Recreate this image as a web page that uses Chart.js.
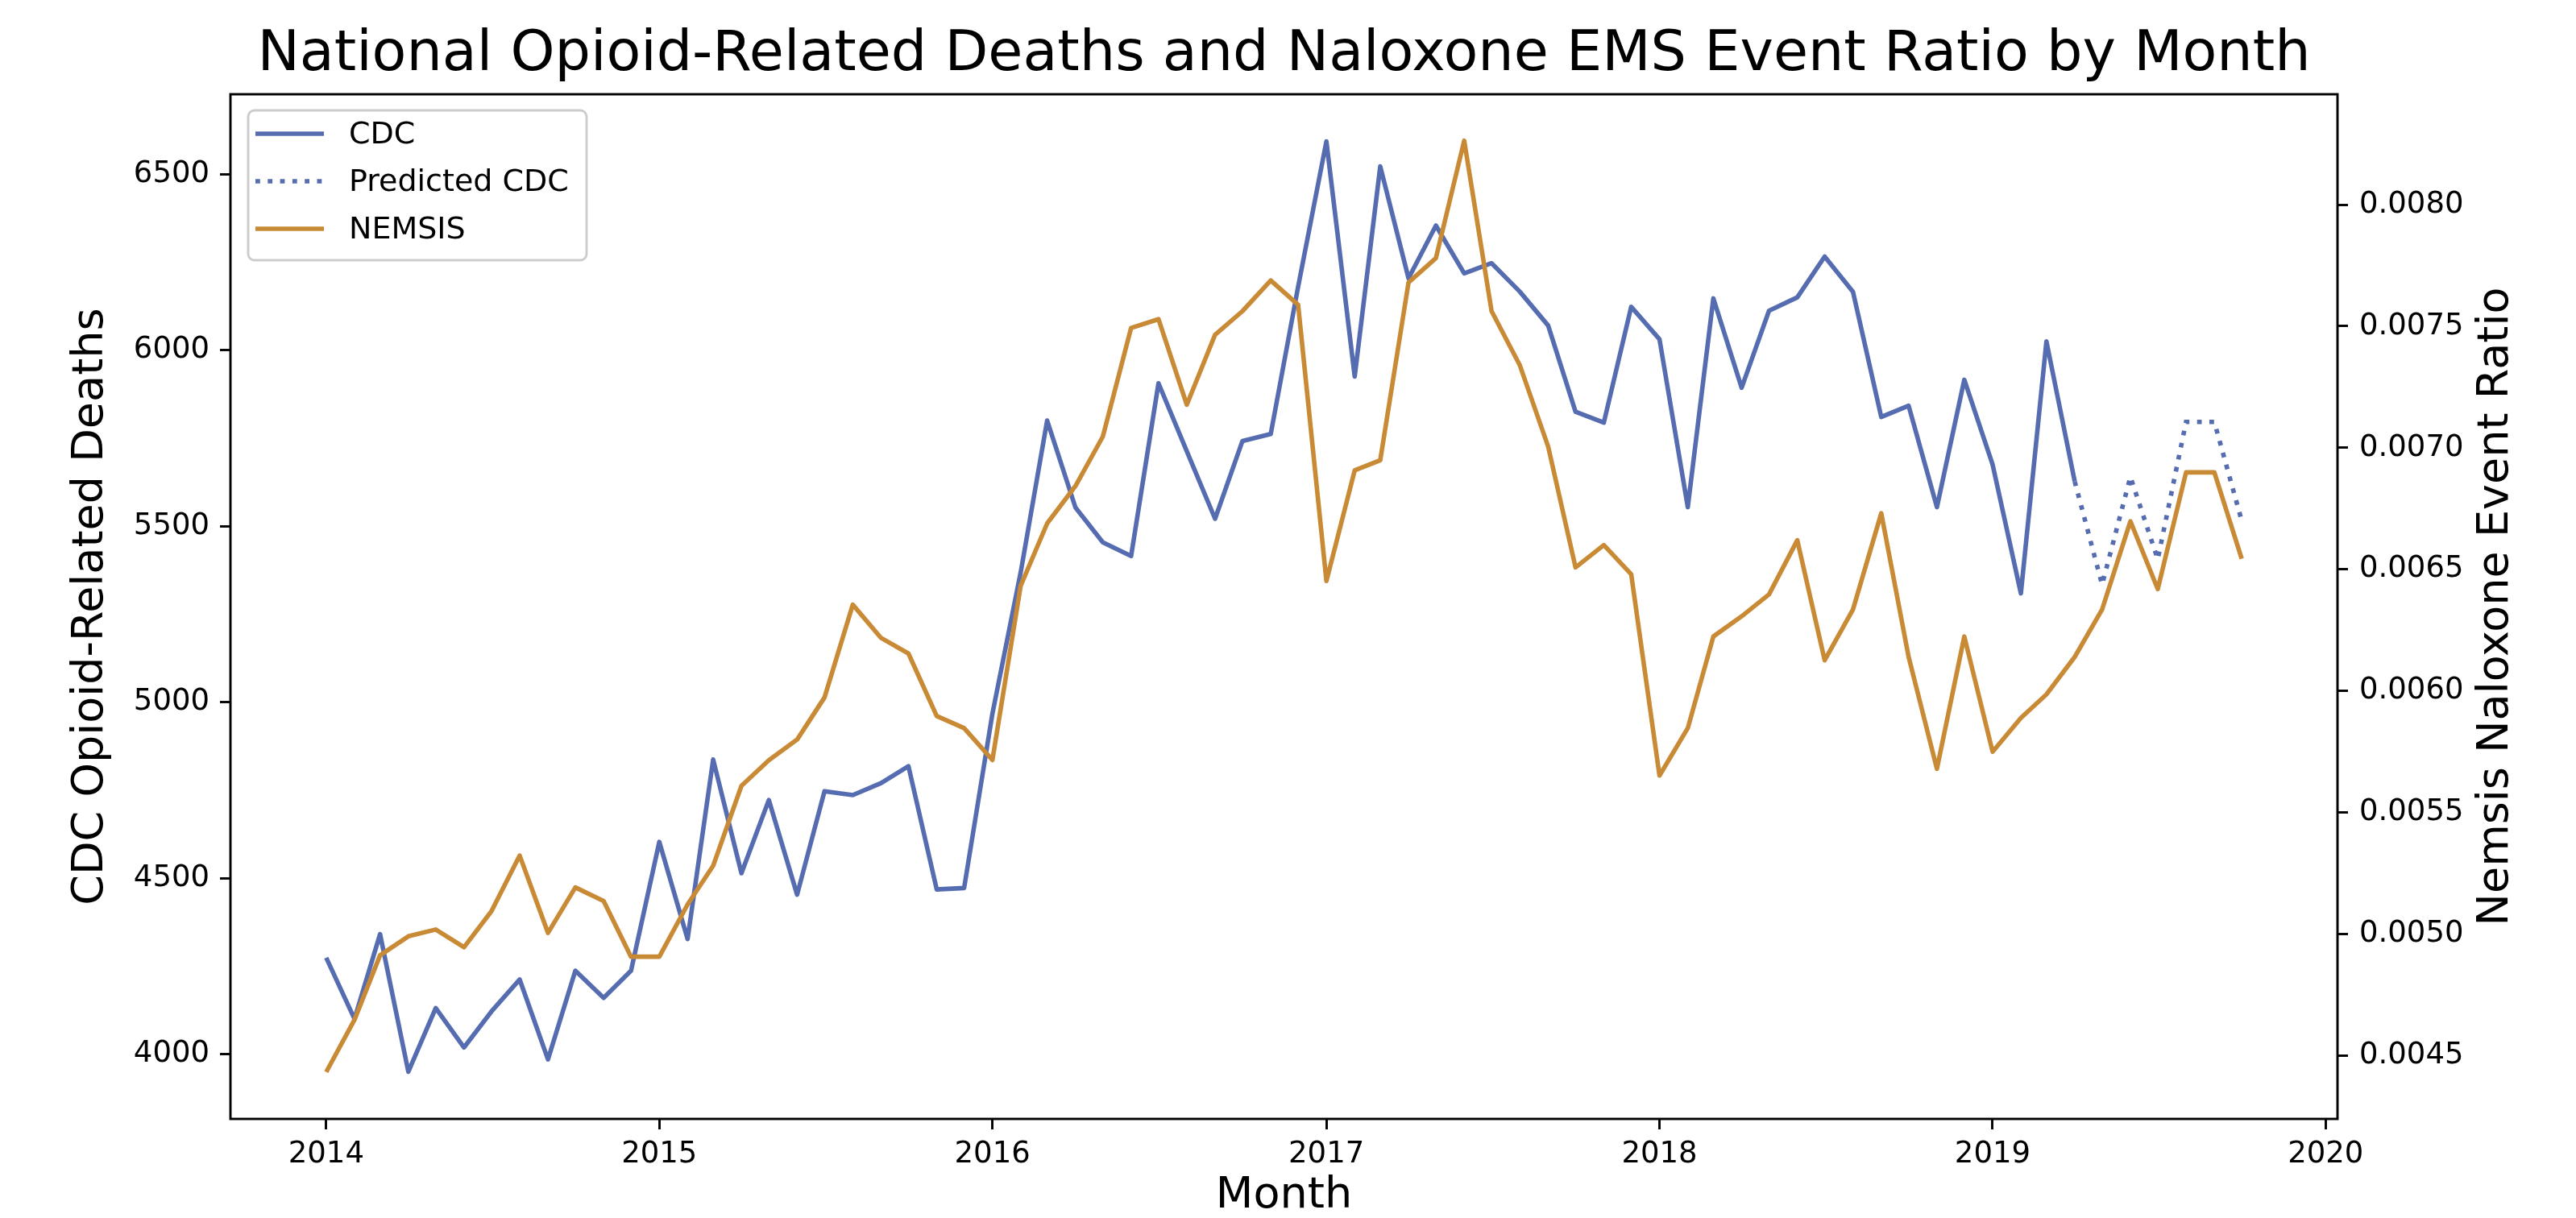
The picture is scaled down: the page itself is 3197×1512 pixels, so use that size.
<!DOCTYPE html>
<html>
<head>
<meta charset="utf-8">
<title>National Opioid-Related Deaths and Naloxone EMS Event Ratio by Month</title>
<script src="https://cdn.jsdelivr.net/npm/chart.js@4.4.1/dist/chart.umd.min.js"></script>
<style>
  html, body { margin: 0; padding: 0; background: #fff; }
  #chart { display: block; }
</style>
</head>
<body>
<canvas id="chart" width="3197" height="1512"></canvas>
<script>
// months on the x axis (first day of each month)
const months = [
    '2014-01', '2014-02', '2014-03', '2014-04', '2014-05', '2014-06', '2014-07', '2014-08', '2014-09', '2014-10', '2014-11', '2014-12',
    '2015-01', '2015-02', '2015-03', '2015-04', '2015-05', '2015-06', '2015-07', '2015-08', '2015-09', '2015-10', '2015-11', '2015-12',
    '2016-01', '2016-02', '2016-03', '2016-04', '2016-05', '2016-06', '2016-07', '2016-08', '2016-09', '2016-10', '2016-11', '2016-12',
    '2017-01', '2017-02', '2017-03', '2017-04', '2017-05', '2017-06', '2017-07', '2017-08', '2017-09', '2017-10', '2017-11', '2017-12',
    '2018-01', '2018-02', '2018-03', '2018-04', '2018-05', '2018-06', '2018-07', '2018-08', '2018-09', '2018-10', '2018-11', '2018-12',
    '2019-01', '2019-02', '2019-03', '2019-04', '2019-05', '2019-06', '2019-07', '2019-08', '2019-09', '2019-10'
];

// CDC deaths, 2014-01 .. 2019-04
const cdcDeaths = [
    4274, 4100, 4341, 3950, 4131, 4019, 4121, 4212, 3985, 4237, 4160, 4237,
    4603, 4327, 4837, 4514, 4722, 4453, 4747, 4736, 4770, 4818, 4468, 4472,
    4967, 5369, 5800, 5553, 5454, 5415, 5906, 5713, 5521, 5742, 5762, 6180,
    6593, 5925, 6522, 6204, 6354, 6218, 6247, 6166, 6070, 5825, 5794, 6123,
    6031, 5554, 6147, 5893, 6112, 6150, 6266, 6166, 5810, 5842, 5554, 5916,
    5675, 5309, 6025, 5627
];

// predicted CDC deaths, 2019-04 .. 2019-10
const predictedDeaths = [5627, 5334, 5640, 5406, 5796, 5796, 5515];

// NEMSIS naloxone EMS event ratio, 2014-01 .. 2019-10
const nemsisRatio = [
    0.004433, 0.004648, 0.004913, 0.004991, 0.005019, 0.004946, 0.005094, 0.005323, 0.005005, 0.005192, 0.005136, 0.004907,
    0.004907, 0.005122, 0.005281, 0.005610, 0.005715, 0.005800, 0.005973, 0.006355, 0.006218, 0.006154, 0.005897, 0.005847,
    0.005716, 0.006433, 0.006689, 0.006843, 0.007046, 0.007493, 0.007529, 0.007177, 0.007465, 0.007562, 0.007688, 0.007588,
    0.006452, 0.006907, 0.006949, 0.007680, 0.007780, 0.008263, 0.007562, 0.007339, 0.007005, 0.006508, 0.006600, 0.006480,
    0.005652, 0.005847, 0.006224, 0.006307, 0.006397, 0.006620, 0.006126, 0.006335, 0.006731, 0.006140, 0.005680, 0.006224,
    0.005750, 0.005889, 0.005986, 0.006140, 0.006335, 0.006698, 0.006419, 0.006899, 0.006899, 0.006544
];

const yearTicks = [2014, 2015, 2016, 2017, 2018, 2019, 2020];
const deathTicks = [4000, 4500, 5000, 5500, 6000, 6500];
const ratioTicks = [0.0045, 0.0050, 0.0055, 0.0060, 0.0065, 0.0070, 0.0075, 0.0080];

const FONT = 'DejaVu Sans';
const BLUE = '#566cb0';
const ORANGE = '#c98a35';
const LINE_W = 5.6;

// days since 2014-01-01, like matplotlib date numbers
function dayNum(ym) {
    const [y, m] = ym.split('-').map(Number);
    return (Date.UTC(y, m - 1, 1) - Date.UTC(2014, 0, 1)) / 86400000;
}

const predStart = months.length - predictedDeaths.length;
const cdcPoints = cdcDeaths.map((v, i) => ({x: dayNum(months[i]), y: v}));
const predPoints = predictedDeaths.map((v, i) => ({x: dayNum(months[predStart + i]), y: v}));
const nemsisPoints = nemsisRatio.map((v, i) => ({x: dayNum(months[i]), y: v}));

const span = dayNum(months[months.length - 1]) - dayNum(months[0]);

// axes box (spines on all four sides)
const framePlugin = {
    id: 'frame',
    afterDatasetsDraw(chart) {
        const {ctx, chartArea: a} = chart;
        ctx.save();
        ctx.strokeStyle = '#000';
        ctx.lineWidth = 2.9;
        ctx.strokeRect(a.left, a.top, a.right - a.left, a.bottom - a.top);
        ctx.restore();
    }
};

// right axis label reads bottom to top, like the left one
const rightTitlePlugin = {
    id: 'rightTitle',
    afterDraw(chart) {
        const {ctx, chartArea: a} = chart;
        ctx.save();
        ctx.translate(3098, (a.top + a.bottom) / 2);
        ctx.rotate(-Math.PI / 2);
        ctx.font = '54px "' + FONT + '"';
        ctx.fillStyle = '#000';
        ctx.textAlign = 'center';
        ctx.textBaseline = 'middle';
        ctx.fillText('Nemsis Naloxone Event Ratio', 0, 0);
        ctx.restore();
    }
};

// legend inside the upper left corner of the axes
const insideLegend = {
    id: 'insideLegend',
    afterDraw(chart) {
        const {ctx, chartArea: a} = chart;
        const x = a.left + 22, y = a.top + 20;
        ctx.save();
        ctx.beginPath();
        ctx.roundRect(x, y, 420, 186, 8);
        ctx.fillStyle = 'rgba(255,255,255,0.8)';
        ctx.fill();
        ctx.strokeStyle = '#cccccc';
        ctx.lineWidth = 2.9;
        ctx.stroke();

        chart.data.datasets.forEach((ds, i) => {
            const rowY = a.top + 49 + i * 59;
            ctx.beginPath();
            ctx.setLineDash(ds.borderDash || []);
            ctx.strokeStyle = ds.borderColor;
            ctx.lineWidth = ds.borderWidth;
            ctx.moveTo(a.left + 31, rowY);
            ctx.lineTo(a.left + 116, rowY);
            ctx.stroke();
            ctx.setLineDash([]);
            ctx.font = '38px "' + FONT + '"';
            ctx.fillStyle = '#000';
            ctx.textAlign = 'left';
            ctx.textBaseline = 'middle';
            ctx.fillText(ds.label, a.left + 147, rowY + 2);
        });
        ctx.restore();
    }
};

const tickFont = {family: FONT, size: 37};
const tickGrid = {drawOnChartArea: false, drawTicks: true, tickLength: 13, tickWidth: 2.9, tickColor: '#000'};

new Chart(document.getElementById('chart'), {
    type: 'line',
    data: {
        datasets: [
            {
                label: 'CDC',
                data: cdcPoints,
                yAxisID: 'y',
                borderColor: BLUE,
                borderWidth: LINE_W,
                borderJoinStyle: 'round',
                pointRadius: 0,
                order: 1
            },
            {
                label: 'Predicted CDC',
                data: predPoints,
                yAxisID: 'y',
                borderColor: BLUE,
                borderWidth: LINE_W,
                borderDash: [5.8, 9.5],
                pointRadius: 0,
                order: 2
            },
            {
                label: 'NEMSIS',
                data: nemsisPoints,
                yAxisID: 'y1',
                borderColor: ORANGE,
                borderWidth: LINE_W,
                borderJoinStyle: 'round',
                pointRadius: 0,
                order: 0
            }
        ]
    },
    options: {
        responsive: false,
        animation: false,
        events: [],
        layout: {padding: 0},
        plugins: {
            legend: {display: false},
            tooltip: {enabled: false},
            title: {
                display: true,
                text: 'National Opioid-Related Deaths and Naloxone EMS Event Ratio by Month',
                color: '#000',
                font: {family: FONT, size: 70, weight: 'normal', lineHeight: 1.2},
                padding: {top: 27, bottom: 6},
                fullSize: false
            }
        },
        scales: {
            x: {
                type: 'linear',
                min: -0.05 * span,
                max: span * 1.05,
                afterBuildTicks: s => { s.ticks = yearTicks.map(yr => ({value: dayNum(yr + '-01')})); },
                afterFit: s => { s.height = 123; },
                grid: tickGrid,
                border: {display: false},
                ticks: {
                    font: tickFont,
                    color: '#000',
                    padding: 9,
                    maxRotation: 0,
                    autoSkip: false,
                    callback: (v, i) => String(yearTicks[i])
                },
                title: {
                    display: true,
                    text: 'Month',
                    color: '#000',
                    font: {family: FONT, size: 54, lineHeight: 1},
                    padding: 0
                }
            },
            y: {
                position: 'left',
                min: 3816,
                max: 6727,
                afterBuildTicks: s => { s.ticks = deathTicks.map(v => ({value: v})); },
                afterFit: s => { s.width = 286; },
                grid: tickGrid,
                border: {display: false},
                ticks: {
                    font: tickFont,
                    color: '#000',
                    padding: 13,
                    autoSkip: false,
                    callback: v => String(v)
                },
                title: {
                    display: true,
                    text: 'CDC Opioid-Related Deaths',
                    color: '#000',
                    font: {family: FONT, size: 54, lineHeight: 1},
                    padding: {top: 86, bottom: 0}
                }
            },
            y1: {
                position: 'right',
                min: 0.00424,
                max: 0.008454,
                afterBuildTicks: s => { s.ticks = ratioTicks.map(v => ({value: v})); },
                afterFit: s => { s.width = 296; },
                grid: tickGrid,
                border: {display: false},
                ticks: {
                    font: tickFont,
                    color: '#000',
                    padding: 14,
                    autoSkip: false,
                    callback: v => v.toFixed(4)
                }
            }
        }
    },
    plugins: [framePlugin, rightTitlePlugin, insideLegend]
});
</script>
</body>
</html>
